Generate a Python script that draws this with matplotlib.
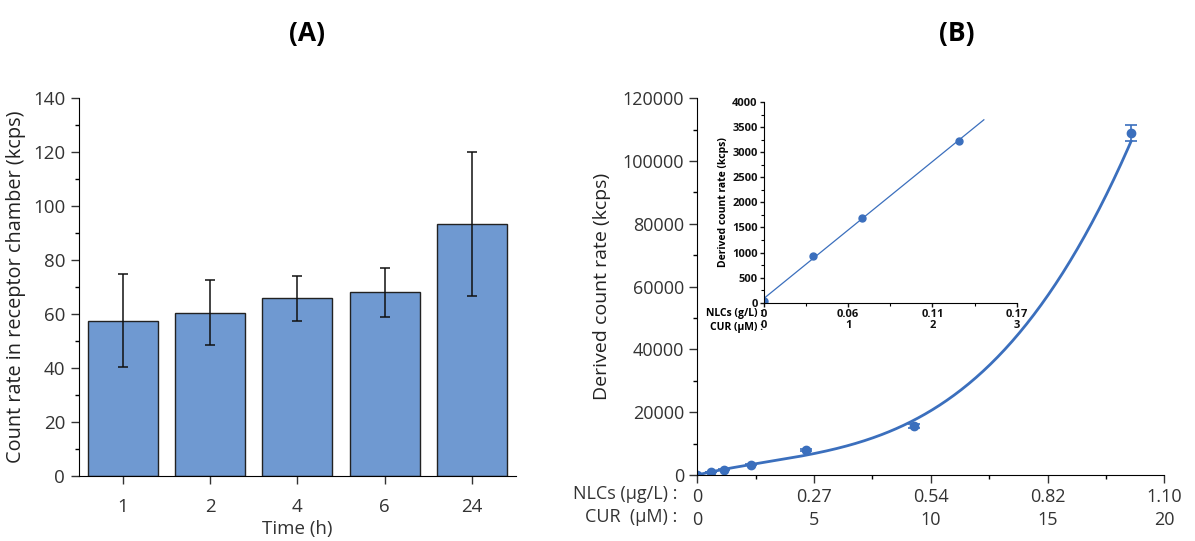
import numpy as np
import matplotlib.pyplot as plt
from matplotlib.ticker import MultipleLocator

plt.rcParams['font.family'] = ['Open Sans', 'DejaVu Sans']

# Panel A: count rate in receptor chamber
times = ['1', '2', '4', '6', '24']
count_rate = [57.5, 60.5, 65.8, 68.1, 93.2]
count_err = [17.3, 12.0, 8.4, 9.1, 26.7]

# Panel B: derived count rate vs concentration
cur_um = [0, 0.58, 1.16, 2.32, 4.64, 9.29, 18.58]
derived_rate = [40, 930, 1680, 3230, 7940, 15570, 108900]
derived_err = [30, 80, 100, 120, 300, 600, 2500]
n_inset = 4  # first points shown in the inset

main_ticks = [0, 5, 10, 15, 20]
main_nlc_labels = ['0', '0.27', '0.54', '0.82', '1.10']
inset_ticks = [0, 1, 2, 3]
inset_nlc_labels = ['0', '0.06', '0.11', '0.17']

bar_color = '#6f99d1'
pt_color = '#3b6fbd'
txt = '#333333'

fig = plt.figure(figsize=(11.95, 5.41), dpi=100)

# ---- (A) ----
axA = fig.add_axes([0.0661, 0.1207, 0.3654, 0.6976])
x = np.arange(len(times))
axA.bar(x, count_rate, width=0.8, color=bar_color, edgecolor='#222222', linewidth=1,
        yerr=count_err, error_kw=dict(ecolor='#111111', elinewidth=1.1, capsize=3.5, capthick=1.1))
axA.set_xlim(-0.5, 4.5)
axA.set_ylim(0, 140)
axA.set_xticks(x)
axA.set_xticklabels(times)
axA.yaxis.set_major_locator(MultipleLocator(20))
axA.yaxis.set_minor_locator(MultipleLocator(10))
axA.spines[['top', 'right']].set_visible(False)
axA.tick_params(axis='both', labelsize=13.5, colors=txt, length=6, width=1, pad=4)
axA.tick_params(axis='x', pad=10)
axA.tick_params(axis='y', which='minor', length=3, width=1)
axA.set_xlabel('Time (h)', fontsize=13.5, color=txt, labelpad=3)
axA.set_ylabel('Count rate in receptor chamber (kcps)', fontsize=14.3, color='#222222', labelpad=5)
fig.text(0.2567, 0.939, '(A)', fontsize=19, fontweight='bold', ha='center', va='center')

# ---- (B) ----
axB = fig.add_axes([0.5835, 0.1220, 0.3908, 0.6963])
xs = np.array(cur_um)
ys = np.array(derived_rate)
# weighted cubic fit (instrumental weighting by the error bars)
coef = np.polyfit(xs, ys, 3, w=1.0 / np.array(derived_err))
xf = np.linspace(0, xs[-1], 300)
axB.plot(xf, np.polyval(coef, xf), color=pt_color, lw=2)
axB.errorbar(xs, ys, yerr=derived_err, fmt='o', color=pt_color, ms=6,
             elinewidth=1.2, capsize=4, capthick=1.2)
axB.set_xlim(0, 20)
axB.set_ylim(0, 120000)
axB.set_xticks(main_ticks)
axB.set_xticklabels([f'{n}\n{c}' for n, c in zip(main_nlc_labels, main_ticks)],
                    linespacing=1.35)
axB.xaxis.set_minor_locator(MultipleLocator(2.5))
axB.yaxis.set_major_locator(MultipleLocator(20000))
axB.yaxis.set_minor_locator(MultipleLocator(10000))
axB.spines[['top', 'right']].set_visible(False)
axB.tick_params(axis='both', labelsize=13, colors=txt, length=6, width=1)
axB.tick_params(which='minor', length=3, width=1)
axB.set_ylabel('Derived count rate (kcps)', fontsize=14, color='#222222', labelpad=8)
fig.text(0.567, 0.0869, 'NLCs (\u00b5g/L) :', fontsize=13, color=txt, ha='right', va='center')
fig.text(0.567, 0.0449, 'CUR  (\u00b5M) :', fontsize=13, color=txt, ha='right', va='center')
fig.text(0.8006, 0.939, '(B)', fontsize=19, fontweight='bold', ha='center', va='center')

# ---- inset ----
axI = fig.add_axes([0.6393, 0.4405, 0.2115, 0.3710])
xi = xs[:n_inset]
yi = ys[:n_inset]
lin = np.polyfit(xi, yi, 1)
xl = np.linspace(0, 2.61, 50)
axI.plot(xl, np.polyval(lin, xl), color=pt_color, lw=0.9)
axI.plot(xi, yi, 'o', color=pt_color, ms=5)
axI.set_xlim(0, 3)
axI.set_ylim(0, 4000)
axI.set_xticks(inset_ticks)
axI.set_xticklabels([f'{n}\n{c}' for n, c in zip(inset_nlc_labels, inset_ticks)],
                    linespacing=1.0, fontweight='bold')
axI.xaxis.set_minor_locator(MultipleLocator(0.5))
axI.yaxis.set_major_locator(MultipleLocator(500))
axI.yaxis.set_minor_locator(MultipleLocator(250))
for lb in axI.get_yticklabels():
    lb.set_fontweight('bold')
axI.spines[['top', 'right']].set_visible(False)
axI.tick_params(axis='both', labelsize=8, colors='#111111', length=3, width=1, pad=1.5)
axI.tick_params(which='minor', length=2, width=0.8)
axI.set_ylabel('Derived count rate (kcps)', fontsize=7.5, fontweight='bold', labelpad=2)
fig.text(0.6385, 0.4196, 'NLCs (g/L) :', fontsize=7.5, fontweight='bold', ha='right', va='center')
fig.text(0.6385, 0.3950, 'CUR (\u00b5M) :', fontsize=7.5, fontweight='bold', ha='right', va='center')

fig.savefig('out.png', dpi=100)
